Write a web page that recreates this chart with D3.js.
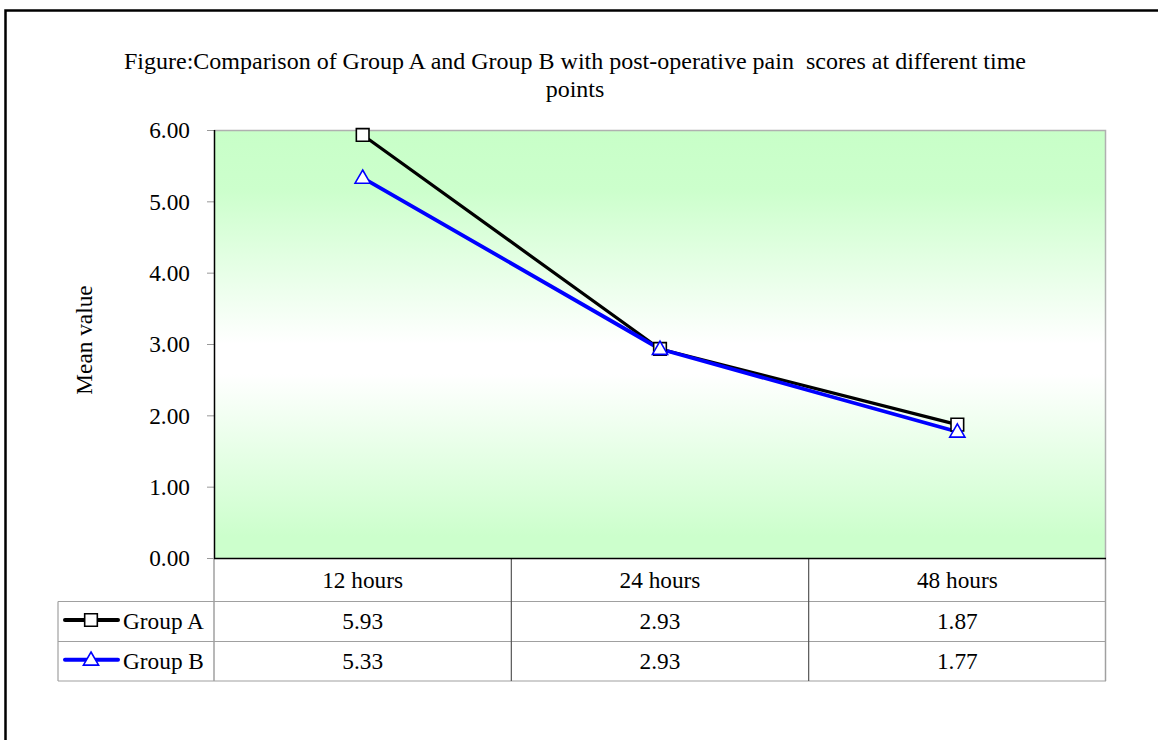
<!DOCTYPE html>
<html>
<head>
<meta charset="utf-8">
<script src="https://cdn.jsdelivr.net/npm/d3@7"></script>
<style>
html,body{margin:0;padding:0;background:#fff;}
svg{display:block;}
text{font-family:"Liberation Serif","Times New Roman",serif;fill:#000;}
</style>
</head>
<body>
<svg id="chart" width="1158" height="740"></svg>
<script>
const categories = ["12 hours", "24 hours", "48 hours"];
const groupA = [5.93, 2.93, 1.87];
const groupB = [5.33, 2.93, 1.77];
const seriesNames = ["Group A", "Group B"];
const yTicks = [0, 1, 2, 3, 4, 5, 6];
const titleLines = ["Figure:Comparison of Group A and Group B with post-operative pain  scores at different time", "points"];
const yLabel = "Mean value";

const svg = d3.select("#chart");
const W = 1158, H = 740;
const plot = {left: 214, right: 1106, top: 130, bottom: 558};
const FS = 23.3;

// outer frame
svg.append("path")
  .attr("d", `M5.5,${H+5} L5.5,10.5 L${W+5},10.5`)
  .attr("fill", "none").attr("stroke", "#000").attr("stroke-width", 2.5);

// gradient
const defs = svg.append("defs");
const grad = defs.append("linearGradient").attr("id", "bg").attr("x1", 0).attr("y1", 0).attr("x2", 0).attr("y2", 1);
[[0, "#c8ffc8"], [0.14, "#ccffcc"], [0.5, "#ffffff"], [0.57, "#ffffff"], [0.95, "#ccffcc"], [1, "#ccffcc"]]
  .forEach(([o, c]) => grad.append("stop").attr("offset", o).attr("stop-color", c));

const x = d3.scaleBand().domain(categories).range([plot.left, plot.right]).padding(0);
const y = d3.scaleLinear().domain([0, 6]).range([plot.bottom, plot.top]);

svg.append("rect")
  .attr("x", plot.left).attr("y", plot.top)
  .attr("width", plot.right - plot.left).attr("height", plot.bottom - plot.top)
  .attr("fill", "url(#bg)");

// top and right plot border (gray)
svg.append("path")
  .attr("d", `M${plot.left},${plot.top+0.5} L${plot.right-0.5},${plot.top+0.5} L${plot.right-0.5},${plot.bottom}`)
  .attr("fill", "none").attr("stroke", "#b0b0b0").attr("stroke-width", 1.5);

// title
titleLines.forEach((t, i) => {
  svg.append("text").attr("x", 575).attr("y", 69 + i * 28)
    .attr("xml:space", "preserve").style("white-space", "pre")
    .attr("text-anchor", "middle").attr("font-size", 24).text(t);
});

// y axis
const yAxis = d3.axisLeft(y).tickValues(yTicks).tickFormat(d3.format(".2f")).tickSize(7).tickPadding(17);
const ya = svg.append("g").attr("transform", `translate(${plot.left},0)`).call(yAxis);
ya.attr("font-size", FS).attr("font-family", "Liberation Serif, serif");
ya.select(".domain").remove();
ya.selectAll(".tick line").attr("stroke", "#999");
ya.selectAll(".tick text").attr("dy", "0.34em");
svg.append("line").attr("x1", plot.left + 0.5).attr("x2", plot.left + 0.5)
  .attr("y1", plot.top).attr("y2", plot.bottom).attr("stroke", "#000").attr("stroke-width", 1.5);

svg.append("text")
  .attr("transform", `translate(92,340) rotate(-90)`)
  .attr("text-anchor", "middle").attr("font-size", FS).text(yLabel);

// table
const rowTops = [plot.bottom, 601.5, 641.5, 681];
const legendLeft = 58;
const gray = "#a0a0a0";
const tbl = svg.append("g");
[1, 2, 3].forEach(r => {
  tbl.append("line").attr("x1", legendLeft).attr("x2", plot.right).attr("y1", rowTops[r]).attr("y2", rowTops[r]).attr("stroke", gray).attr("stroke-width", 1.2);
});
tbl.append("line").attr("x1", legendLeft).attr("x2", legendLeft).attr("y1", rowTops[1]).attr("y2", rowTops[3]).attr("stroke", gray).attr("stroke-width", 1.2);
tbl.append("line").attr("x1", plot.left).attr("x2", plot.left).attr("y1", plot.bottom).attr("y2", rowTops[3]).attr("stroke", gray).attr("stroke-width", 1.5);
categories.slice(1).forEach(c => {
  tbl.append("line").attr("x1", x(c)).attr("x2", x(c)).attr("y1", plot.bottom).attr("y2", rowTops[3]).attr("stroke", "#555").attr("stroke-width", 1.2);
});
tbl.append("line").attr("x1", plot.right - 0.5).attr("x2", plot.right - 0.5).attr("y1", plot.bottom).attr("y2", rowTops[3]).attr("stroke", gray).attr("stroke-width", 1.5);

categories.forEach(c => {
  tbl.append("text").attr("x", x(c) + x.bandwidth() / 2).attr("y", (rowTops[0] + rowTops[1]) / 2 + 8)
    .attr("text-anchor", "middle").attr("font-size", FS).text(c);
});

// bottom axis line (black)
svg.append("line").attr("x1", plot.left).attr("x2", plot.right)
  .attr("y1", plot.bottom + 0.5).attr("y2", plot.bottom + 0.5).attr("stroke", "#000").attr("stroke-width", 1.5);

const series = [
  {name: seriesNames[0], values: groupA, color: "#000000", width: 3.2, marker: "square"},
  {name: seriesNames[1], values: groupB, color: "#0000ff", width: 3.8, marker: "triangle"}
];

const line = d3.line().x((d, i) => x(categories[i]) + x.bandwidth() / 2).y(d => y(d));
const sq = d3.symbol().type(d3.symbolSquare).size(160);
const tri = d3.symbol().type(d3.symbolTriangle).size(100);

series.forEach(s => {
  svg.append("path").datum(s.values).attr("d", line)
    .attr("fill", "none").attr("stroke", s.color).attr("stroke-width", s.width).attr("stroke-linejoin", "round");
});
series.forEach(s => {
  svg.selectAll(null).data(s.values).enter().append("path")
    .attr("transform", (d, i) => `translate(${x(categories[i]) + x.bandwidth() / 2},${y(d) + (s.marker === "triangle" ? 1 : 0)})`)
    .attr("d", s.marker === "square" ? sq : tri)
    .attr("fill", "#fff").attr("stroke", s.color).attr("stroke-width", 1.6);
});

series.forEach((s, r) => {
  const cy = (rowTops[r + 1] + rowTops[r + 2]) / 2;
  tbl.append("line").attr("x1", 65).attr("x2", 118).attr("y1", cy - 1.5).attr("y2", cy - 1.5)
    .attr("stroke", s.color).attr("stroke-width", 4).attr("stroke-linecap", "round");
  tbl.append("path").attr("transform", `translate(91,${cy - 1.5 + (s.marker === "triangle" ? 1 : 0)})`)
    .attr("d", s.marker === "square" ? sq : tri)
    .attr("fill", "#fff").attr("stroke", s.color).attr("stroke-width", 1.6);
  tbl.append("text").attr("x", 123).attr("y", cy + 7.5).attr("font-size", FS).text(s.name);
  s.values.forEach((v, i) => {
    tbl.append("text").attr("x", x(categories[i]) + x.bandwidth() / 2).attr("y", cy + 7.5)
      .attr("text-anchor", "middle").attr("font-size", FS).text(d3.format(".2f")(v));
  });
});
</script>
</body>
</html>
